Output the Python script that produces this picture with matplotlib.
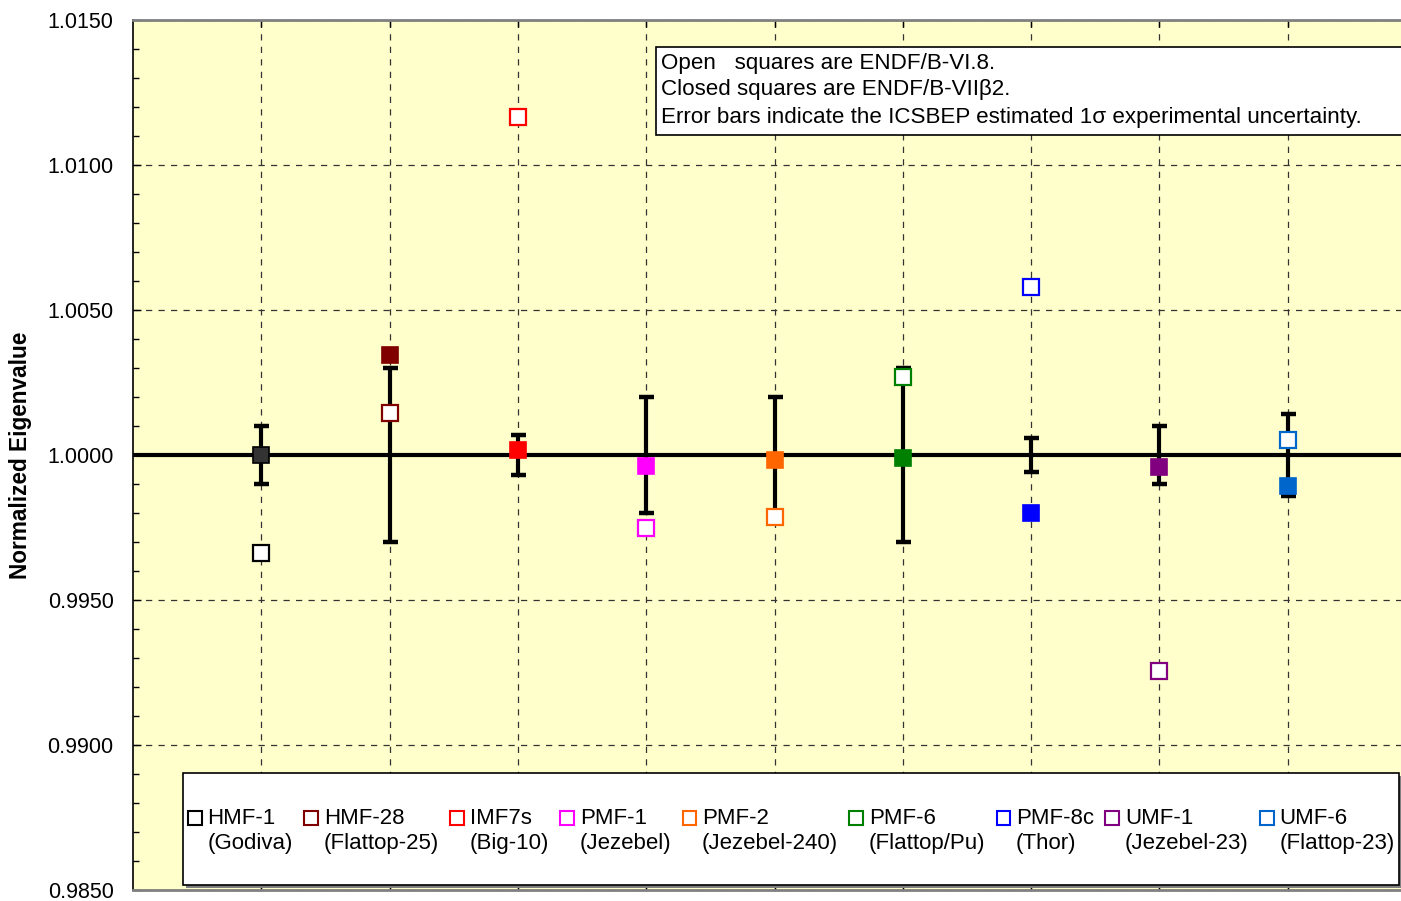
import matplotlib
matplotlib.use("Agg")
import matplotlib.pyplot as plt
from matplotlib.patches import Rectangle
from matplotlib.offsetbox import (DrawingArea, TextArea, HPacker, VPacker,
                                  AnchoredOffsetbox)
from matplotlib.ticker import MultipleLocator, FormatStrFormatter

plt.rcParams['font.family'] = ['Liberation Sans', 'DejaVu Sans']

# ---------------- data ----------------
categories = ['HMF-1', 'HMF-28', 'IMF7s', 'PMF-1', 'PMF-2',
              'PMF-6', 'PMF-8c', 'UMF-1', 'UMF-6']
subnames = ['(Godiva)', '(Flattop-25)', '(Big-10)', '(Jezebel)', '(Jezebel-240)',
            '(Flattop/Pu)', '(Thor)', '(Jezebel-23)', '(Flattop-23)']
endf_vi8 = [0.99662, 1.00145, 1.01166, 0.99748, 0.99787,
            1.00268, 1.00579, 0.99255, 1.00052]          # open squares
endf_vii = [1.00000, 1.00345, 1.00017, 0.99962, 0.99983,
            0.99989, 0.99799, 0.99960, 0.99894]          # closed squares
uncert = [0.0010, 0.0030, 0.0007, 0.0020, 0.0020,
          0.0030, 0.0006, 0.0010, 0.0014]
edge_colors = ['#000000', '#800000', '#FF0000', '#FF00FF', '#FF6600',
               '#008000', '#0000FF', '#800080', '#0066CC']
fill_colors = ['#333333', '#800000', '#FF0000', '#FF00FF', '#FF6600',
               '#008000', '#0000FF', '#800080', '#0066CC']
note_lines = ['Open   squares are ENDF/B-VI.8.',
              'Closed squares are ENDF/B-VIIβ2.',
              'Error bars indicate the ICSBEP estimated 1σ experimental uncertainty.']

W, H = 1401, 901
def fx(px): return px / W
def fy(py): return 1 - py / H

fig = plt.figure(figsize=(W / 100, H / 100), dpi=100)
ax = fig.add_axes([fx(133), fy(890), fx(1416) - fx(133), fy(20) - fy(890)])
ax.set_facecolor('#FFFFCC')

xpos = list(range(1, len(categories) + 1))
ax.set_xlim(0, 10)
ax.set_ylim(0.985, 1.015)

# grid
ax.set_xticks(xpos)
ax.set_xticklabels([])
ax.yaxis.set_major_locator(MultipleLocator(0.005))
ax.yaxis.set_minor_locator(MultipleLocator(0.001))
ax.yaxis.set_major_formatter(FormatStrFormatter('%.4f'))
ax.grid(True, which='major', color='#333333', linestyle=(0, (5, 5)), linewidth=0.9)
ax.set_axisbelow(True)
ax.tick_params(axis='y', which='major', direction='in', length=6, width=1,
               labelsize=15.5, pad=14, right=False)
ax.tick_params(axis='y', which='minor', direction='in', length=4, width=1, right=False)
ax.tick_params(axis='x', which='major', direction='in', length=5, width=1,
               top=True, bottom=True)
ax.spines['left'].set_color('black')
ax.spines['left'].set_linewidth(1.2)
for s in ('top', 'bottom'):
    ax.spines[s].set_color('#808080')
    ax.spines[s].set_linewidth(2)
ax.spines['right'].set_visible(False)

# zero line
ax.axhline(1.0, color='black', linewidth=3, zorder=2)

# error bars
ax.errorbar(xpos, [1.0] * len(xpos), yerr=uncert, fmt='none', ecolor='black',
            elinewidth=3, capsize=5.4, capthick=3.2, zorder=3)

# markers
for i, x in enumerate(xpos):
    ax.plot([x], [endf_vi8[i]], marker='s', linestyle='none', markersize=11,
            markerfacecolor='white', markeredgecolor=edge_colors[i],
            markeredgewidth=1.6, zorder=5)
    ax.plot([x], [endf_vii[i]], marker='s', linestyle='none', markersize=12,
            markerfacecolor=fill_colors[i], markeredgecolor=edge_colors[i]
            if i == 0 else fill_colors[i], markeredgewidth=1.2, zorder=6)

# y label
fig.text(fx(21), fy(455), 'Normalized Eigenvalue', rotation=90, ha='center',
         va='center', fontsize=16.3, fontweight='bold')

# note box
fig.add_artist(Rectangle((fx(656), fy(135)), fx(1430) - fx(656), fy(47) - fy(135),
                         transform=fig.transFigure, facecolor='white',
                         edgecolor='black', linewidth=1.2, zorder=10))
for k, line in enumerate(note_lines):
    fig.text(fx(661), fy(63 + 27 * k), line, ha='left', va='center',
             fontsize=16.1, zorder=11)

# legend box with shadow
fig.add_artist(Rectangle((fx(186), fy(888)), fx(1402) - fx(186), fy(776) - fy(888),
                         transform=fig.transFigure, facecolor='#808080',
                         edgecolor='none', zorder=10))
fig.add_artist(Rectangle((fx(183), fy(885)), fx(1399) - fx(183), fy(773) - fy(885),
                         transform=fig.transFigure, facecolor='white',
                         edgecolor='black', linewidth=1.2, zorder=11))

entries = []
for i, name in enumerate(categories):
    da = DrawingArea(11.5, 19, 0, 0)
    da.add_artist(Rectangle((0.8, 6.6), 10, 10, facecolor='white',
                            edgecolor=edge_colors[i], linewidth=1.5))
    txt = VPacker(children=[TextArea(name, textprops=dict(fontsize=16)),
                            TextArea(subnames[i], textprops=dict(fontsize=16))],
                  align='left', pad=0, sep=3.5)
    entries.append(HPacker(children=[da, txt], align='top', pad=0, sep=3.3))
row = HPacker(children=entries, align='top', pad=0, sep=7.3)
anch = AnchoredOffsetbox(loc='center left', child=row, pad=0, borderpad=0,
                         frameon=False, bbox_to_anchor=(fx(187), fy(831)),
                         bbox_transform=fig.transFigure)
anch.set_zorder(12)
fig.add_artist(anch)

fig.savefig('out.png', dpi=100)
